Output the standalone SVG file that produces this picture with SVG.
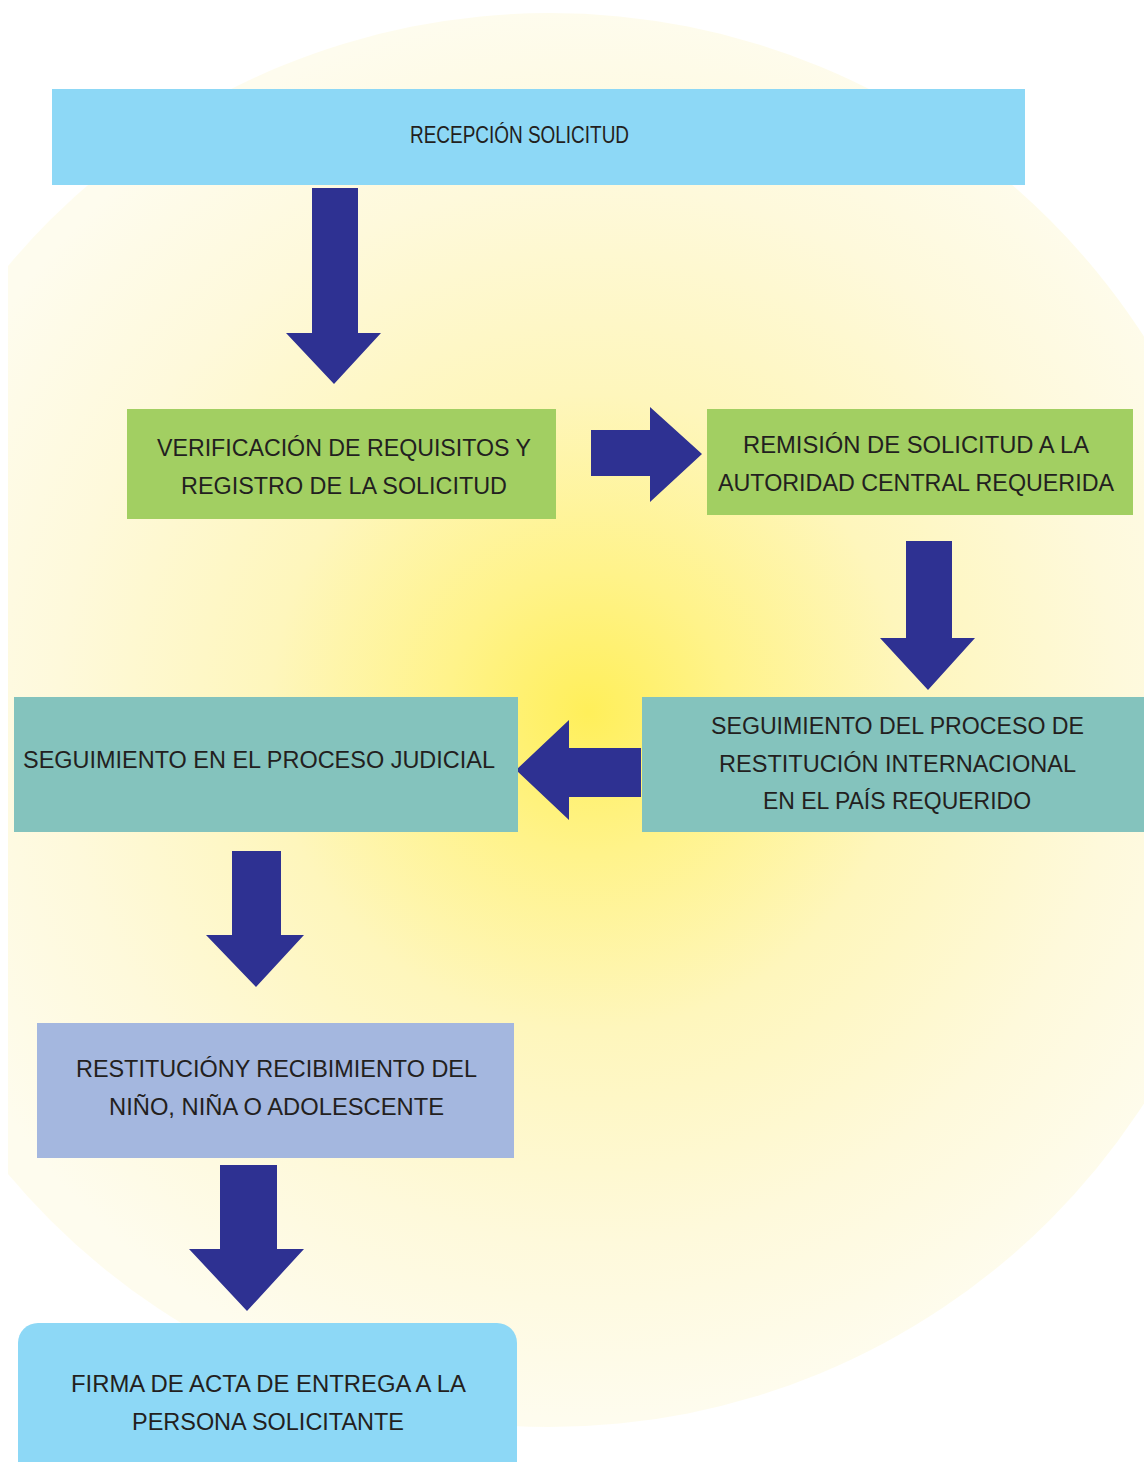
<svg xmlns="http://www.w3.org/2000/svg" width="1144" height="1462" viewBox="0 0 1144 1462">
  <defs>
    <radialGradient id="glow" gradientUnits="userSpaceOnUse" cx="588" cy="712" r="707">
      <stop offset="0" stop-color="#FFEF5A"/>
      <stop offset="0.2" stop-color="#FFF38A"/>
      <stop offset="0.45" stop-color="#FEF6BC"/>
      <stop offset="0.75" stop-color="#FEF9DB"/>
      <stop offset="1" stop-color="#FEFCEE"/>
    </radialGradient>
    <clipPath id="bgclip">
      <rect x="8" y="0" width="1136" height="1462"/>
    </clipPath>
    <style>
      .arrow { fill: #2E3192; }
      .lbl { font-family: "Liberation Sans", Arial, sans-serif; font-size: 23.5px; fill: #231F20; }
      .cond { font-family: "Liberation Sans", Arial, sans-serif; font-size: 23.5px; fill: #231F20; }
      .blue { fill: #8DD8F6; }
      .green { fill: #A2CF62; }
      .teal { fill: #84C3BD; }
      .lav { fill: #A4B7DF; }
    </style>
  </defs>
  <rect x="0" y="0" width="1144" height="1462" fill="#FFFFFF"/>
  <circle cx="550" cy="720" r="707" fill="url(#glow)" clip-path="url(#bgclip)"/>

  <g id="connectors">
    <polygon class="arrow" points="312,188 358,188 358,333 381,333 334,384 286,333 312,333"/>
    <polygon class="arrow" points="591,430 650,430 650,407 702,454 650,502 650,476 591,476"/>
    <polygon class="arrow" points="906,541 952,541 952,638 975,638 928,690 880,638 906,638"/>
    <polygon class="arrow" points="641,748 569,748 569,720 516,770 569,820 569,797 641,797"/>
    <polygon class="arrow" points="232,851 281,851 281,935 304,935 256,987 206,935 232,935"/>
    <polygon class="arrow" points="220,1165 277,1165 277,1249 304,1249 247,1311 189,1249 220,1249"/>
  </g>

  <g id="recepcion">
    <rect class="blue" x="52" y="89" width="973" height="96"/>
    <text class="cond" x="410" y="143" textLength="219" lengthAdjust="spacingAndGlyphs">RECEPCIÓN SOLICITUD</text>
  </g>

  <g id="verificacion">
    <rect class="green" x="127" y="409" width="429" height="110"/>
    <text class="lbl" x="157" y="456" textLength="374" lengthAdjust="spacingAndGlyphs">VERIFICACIÓN DE REQUISITOS  Y</text>
    <text class="lbl" x="181" y="494" textLength="326" lengthAdjust="spacingAndGlyphs">REGISTRO DE LA SOLICITUD</text>
  </g>

  <g id="remision">
    <rect class="green" x="707" y="409" width="426" height="106"/>
    <text class="lbl" x="743" y="453" textLength="346" lengthAdjust="spacingAndGlyphs">REMISIÓN DE SOLICITUD A LA</text>
    <text class="lbl" x="718" y="491" textLength="396" lengthAdjust="spacingAndGlyphs">AUTORIDAD CENTRAL REQUERIDA</text>
  </g>

  <g id="seguimiento-internacional">
    <rect class="teal" x="642" y="697" width="502" height="135"/>
    <text class="lbl" x="711" y="734" textLength="373" lengthAdjust="spacingAndGlyphs">SEGUIMIENTO DEL PROCESO DE</text>
    <text class="lbl" x="719" y="772" textLength="357" lengthAdjust="spacingAndGlyphs">RESTITUCIÓN INTERNACIONAL</text>
    <text class="lbl" x="763" y="809" textLength="268" lengthAdjust="spacingAndGlyphs">EN EL PAÍS REQUERIDO</text>
  </g>

  <g id="seguimiento-judicial">
    <rect class="teal" x="14" y="697" width="504" height="135"/>
    <text class="lbl" x="23" y="768" textLength="472" lengthAdjust="spacingAndGlyphs">SEGUIMIENTO EN EL PROCESO JUDICIAL</text>
  </g>

  <g id="restitucion">
    <rect class="lav" x="37" y="1023" width="477" height="135"/>
    <text class="lbl" x="76" y="1077" textLength="401" lengthAdjust="spacingAndGlyphs">RESTITUCIÓNY RECIBIMIENTO DEL</text>
    <text class="lbl" x="109" y="1115" textLength="335" lengthAdjust="spacingAndGlyphs">NIÑO, NIÑA O ADOLESCENTE</text>
  </g>

  <g id="firma">
    <rect class="blue" x="18" y="1323" width="499" height="170" rx="20" ry="20"/>
    <text class="lbl" x="71" y="1392" textLength="395" lengthAdjust="spacingAndGlyphs">FIRMA DE ACTA DE ENTREGA A LA</text>
    <text class="lbl" x="132" y="1430" textLength="272" lengthAdjust="spacingAndGlyphs">PERSONA SOLICITANTE</text>
  </g>
</svg>
